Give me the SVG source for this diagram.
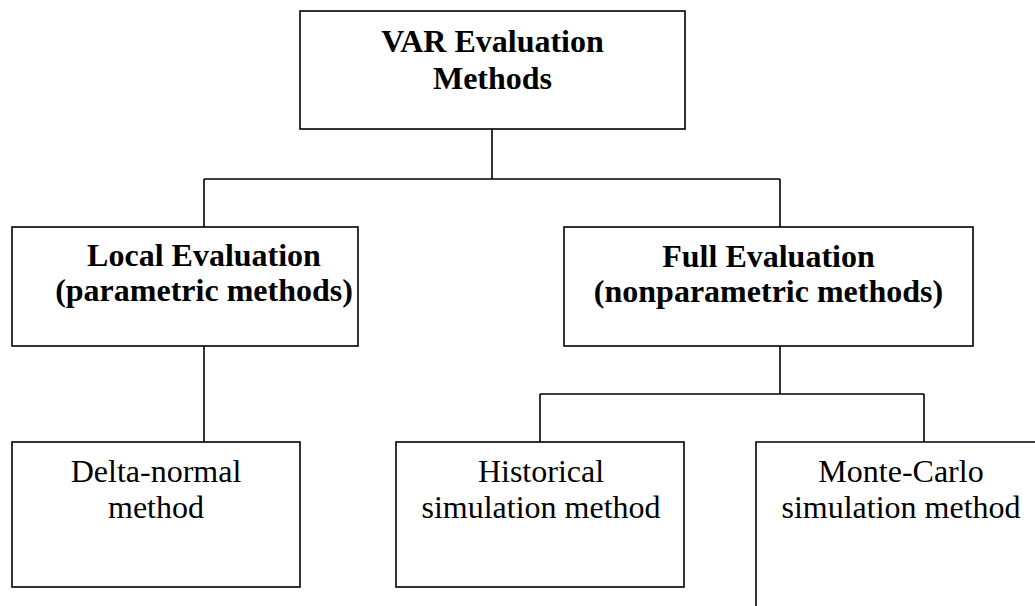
<svg xmlns="http://www.w3.org/2000/svg" width="1035" height="606" viewBox="0 0 1035 606">
<style>
.box{fill:#fff;stroke:#000;stroke-width:1.6}
.ln{fill:none;stroke:#000;stroke-width:1.6}
.b{font-family:"Liberation Serif",serif;font-weight:bold;font-size:32px;text-anchor:middle;fill:#000}
.r{font-family:"Liberation Serif",serif;font-size:32px;text-anchor:middle;fill:#000}
</style>
<rect width="1035" height="606" fill="#fff"/>
<g id="connectors">
<path class="ln" d="M492 129V179M204 179H780M204 179V227M780 179V227"/>
<path class="ln" d="M204 346V442"/>
<path class="ln" d="M780 346V394M540 394H924M540 394V442M924 394V442"/>
</g>
<g id="root">
<rect class="box" x="300" y="11" width="385" height="118"/>
<text class="b" x="492.5" y="52">VAR Evaluation</text>
<text class="b" x="492.5" y="89">Methods</text>
</g>
<g id="local">
<rect class="box" x="12" y="227" width="346" height="119"/>
<text class="b" x="204" y="266">Local Evaluation</text>
<text class="b" x="204" y="301">(parametric methods)</text>
</g>
<g id="full">
<rect class="box" x="564" y="227" width="409" height="119"/>
<text class="b" x="768.5" y="267">Full Evaluation</text>
<text class="b" x="768.5" y="302">(nonparametric methods)</text>
</g>
<g id="delta">
<rect class="box" x="12" y="442" width="288" height="145"/>
<text class="r" x="156" y="482">Delta-normal</text>
<text class="r" x="156" y="518">method</text>
</g>
<g id="historical">
<rect class="box" x="396" y="442" width="288" height="145"/>
<text class="r" x="541" y="482">Historical</text>
<text class="r" x="541" y="518">simulation method</text>
</g>
<g id="montecarlo">
<path class="ln" d="M756 610V442H1040"/>
<text class="r" x="901" y="482">Monte-Carlo</text>
<text class="r" x="901" y="518">simulation method</text>
</g>
</svg>
